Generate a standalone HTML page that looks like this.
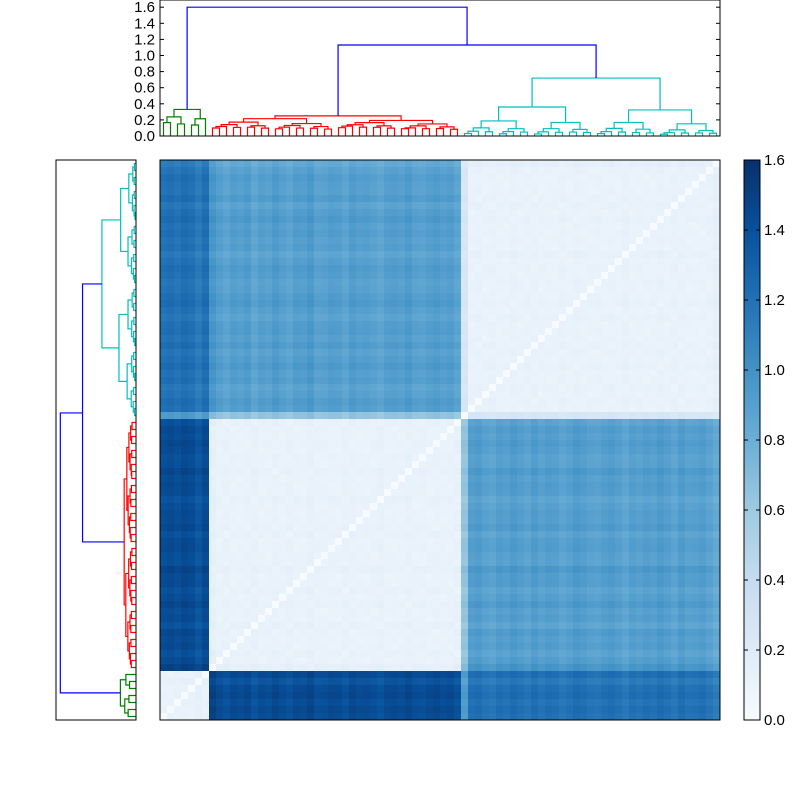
<!DOCTYPE html>
<html><head><meta charset="utf-8"><style>
body{margin:0;background:#fff;}
svg text{font-family:"Liberation Sans",sans-serif;font-size:15px;fill:#000;}
</style></head><body>
<svg id="c" width="800" height="800" xmlns="http://www.w3.org/2000/svg">
<defs>
<clipPath id="clipTop"><rect x="160" y="0" width="560" height="136"/></clipPath>
<clipPath id="clipLeft"><rect x="56" y="160" width="80" height="560"/></clipPath>
<linearGradient id="cbGrad" x1="0" y1="1" x2="0" y2="0">
<stop offset="0" stop-color="#f7fbff"/><stop offset="0.125" stop-color="#deebf7"/><stop offset="0.25" stop-color="#c6dbef"/><stop offset="0.375" stop-color="#9ecae1"/><stop offset="0.5" stop-color="#6baed6"/><stop offset="0.625" stop-color="#4292c6"/><stop offset="0.75" stop-color="#2171b5"/><stop offset="0.875" stop-color="#08519c"/><stop offset="1" stop-color="#08306b"/>
</linearGradient>
</defs>
<g id="heat"></g>
<g id="topD" clip-path="url(#clipTop)"></g>
<g id="leftD" clip-path="url(#clipLeft)"></g>
<rect x="160" y="0" width="560" height="136" fill="none" stroke="#000"/>
<rect x="56" y="160" width="80" height="560" fill="none" stroke="#000"/>
<rect x="160" y="160" width="560" height="560" fill="none" stroke="#000"/>
<rect x="744" y="160" width="16" height="560" fill="url(#cbGrad)" stroke="#000"/>
<g id="axes"></g>
</svg>
<script>
const clusterSizes=[7,36,37];
const clusterColors=["#008000","#ff0000","#00bfbf"];
const clusterTops=[0.33,0.25,0.72];
const clusterShrink=[0.6,0.8,0.5];
const redCyanMerge=1.13;
const rootMerge=1.6;
const blockMeans=[[0.1,1.38,1.15],[1.38,0.1,0.88],[1.15,0.88,0.1]];
const leafVar=[0.03,0.05,0.02,0.06,0.04,-0.02,0.05,
 0.08,0.02,-0.02,0.03,0.01,0.04,-0.03,0.02,0.0,0.05,0.01,-0.02,0.03,0.02,0.06,-0.01,0.0,0.03,0.02,-0.02,0.04,0.01,0.02,0.0,-0.03,0.02,0.03,0.01,0.05,0.0,-0.01,0.02,0.04,0.01,0.03,-0.02,
 -0.25,0.02,0.04,0.0,-0.02,0.03,0.01,0.05,0.02,-0.01,0.04,0.0,0.03,0.02,-0.02,0.01,0.05,0.03,0.0,-0.01,0.02,0.04,0.01,-0.03,0.02,0.0,0.03,0.01,0.05,0.02,-0.02,0.04,0.0,0.01,0.03,-0.01,-0.06];
const topTicks=[0.0,0.2,0.4,0.6,0.8,1.0,1.2,1.4,1.6];
const cbTicks=[0.0,0.2,0.4,0.6,0.8,1.0,1.2,1.4,1.6];

const NS="http://www.w3.org/2000/svg";
const N=clusterSizes.reduce((a,b)=>a+b,0);
const cell=560/N;
const clusterOf=[];clusterSizes.forEach((s,k)=>{for(let i=0;i<s;i++)clusterOf.push(k);});
const starts=[0];for(let k=1;k<clusterSizes.length;k++)starts.push(starts[k-1]+clusterSizes[k-1]);
const stops=[[0.0,[247,251,255]],[0.125,[222,235,247]],[0.25,[198,219,239]],[0.375,[158,202,225]],[0.5,[107,174,214]],[0.625,[66,146,198]],[0.75,[33,113,181]],[0.875,[8,81,156]],[1.0,[8,48,107]]];
function cmap(v){let t=Math.max(0,Math.min(1,v/1.6));for(let i=1;i<stops.length;i++){if(t<=stops[i][0]){const a=stops[i-1],b=stops[i];const f=(t-a[0])/(b[0]-a[0]);const c=a[1].map((x,j)=>Math.round(x+(b[1][j]-x)*f));return`rgb(${c[0]},${c[1]},${c[2]})`;}}return"rgb(8,48,107)";}
function dist(i,j){if(i===j)return 0;const ci=clusterOf[i],cj=clusterOf[j];let v=blockMeans[ci][cj]+(ci===cj?Math.abs(leafVar[i]-leafVar[j])*0.6:leafVar[i]+leafVar[j]);return Math.max(0,v);}
const heat=document.getElementById('heat');
for(let r=0;r<N;r++){const li=N-1-r;for(let c=0;c<N;c++){const el=document.createElementNS(NS,'rect');
el.setAttribute('x',160+c*cell);el.setAttribute('y',160+r*cell);el.setAttribute('width',cell+0.4);el.setAttribute('height',cell+0.4);el.setAttribute('fill',cmap(dist(li,c)));


heat.appendChild(el);}}
const topX=p=>160+(p+0.5)*cell, topY=h=>136-h*80.5;
const leftY=p=>160+(N-1-p+0.5)*cell, leftX=h=>136-h*47.3;
function line(g,pts,color){const el=document.createElementNS(NS,'polyline');el.setAttribute('points',pts.map(p=>p.join(',')).join(' '));el.setAttribute('fill','none');el.setAttribute('stroke',color);el.setAttribute('stroke-width','1.2');


g.appendChild(el);}
function link(L,R,h,color){
 line(document.getElementById('topD'),[[topX(L.pos),topY(L.h)],[topX(L.pos),topY(h)],[topX(R.pos),topY(h)],[topX(R.pos),topY(R.h)]],color);
 line(document.getElementById('leftD'),[[leftX(L.h),leftY(L.pos)],[leftX(h),leftY(L.pos)],[leftX(h),leftY(R.pos)],[leftX(R.h),leftY(R.pos)]],color);
 return {pos:(L.pos+R.pos)/2,h:h};}
function build(lo,hi,top,color,s){if(lo===hi)return{pos:lo,h:0};const mid=Math.floor((lo+hi)/2);
 const f=s+Math.abs(leafVar[mid])*2;const L=build(lo,mid,top*Math.min(0.95,f),color,s);const R=build(mid+1,hi,top*Math.min(0.9,f*0.9),color,s);return link(L,R,top,color);}
const sub=clusterSizes.map((s,k)=>build(starts[k],starts[k]+s-1,clusterTops[k],clusterColors[k],clusterShrink[k]));
const rc=link(sub[1],sub[2],redCyanMerge,"#0000ff");
link(sub[0],rc,rootMerge,"#0000ff");
const ax=document.getElementById('axes');
function txt(x,y,s,anchor,name){const t=document.createElementNS(NS,'text');t.setAttribute('x',x);t.setAttribute('y',y);t.setAttribute('text-anchor',anchor);t.textContent=s;


ax.appendChild(t);}
function tick(x1,y1,x2,y2){const l=document.createElementNS(NS,'line');l.setAttribute('x1',x1);l.setAttribute('y1',y1);l.setAttribute('x2',x2);l.setAttribute('y2',y2);l.setAttribute('stroke','#000');


ax.appendChild(l);}
topTicks.forEach(v=>{const y=topY(v);tick(160,y,164,y);tick(720,y,716,y);txt(155,y+5,v.toFixed(1),'end','top-dendrogram-tick-label');});
cbTicks.forEach(v=>{const y=720-v*350;tick(756,y,760,y);tick(744,y,748,y);txt(764,y+5,v.toFixed(1),'start','colorbar-tick-label');});
</script>
</body></html>
